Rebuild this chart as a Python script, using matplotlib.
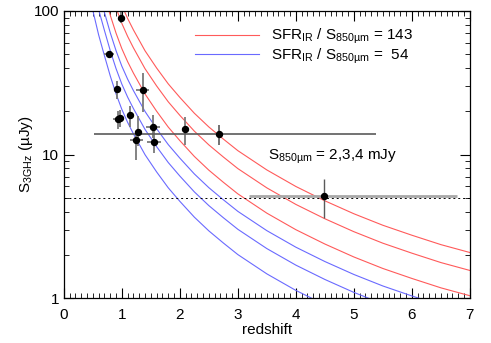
import numpy as np
import matplotlib
matplotlib.use("Agg")
import matplotlib.pyplot as plt

plt.rcParams['font.family'] = ['Liberation Sans', 'DejaVu Sans']
plt.rcParams['mathtext.default'] = 'regular'

# model curve shape: S_3GHz per (mJy at 850um x SFR ratio)
model_z = [0.45, 0.5, 0.6, 0.7, 0.8, 0.9, 1.0, 1.1, 1.2, 1.4, 1.6, 1.8, 2.0,
           2.25, 2.5, 2.75, 3.0, 3.5, 4.0, 4.5, 5.0, 5.5, 6.0, 6.5, 7.0]
model_g = [1.148, 0.933, 0.631, 0.452, 0.327, 0.245, 0.191, 0.155, 0.129,
           0.0923, 0.0700, 0.0543, 0.0437, 0.0339, 0.0272, 0.0224, 0.0186,
           0.01365, 0.01047, 0.00832, 0.00676, 0.00562, 0.00479, 0.00412, 0.00363]
s850_values = [2, 3, 4]
ratio_red = 143
ratio_blue = 54

# sources
z = [0.99, 0.78, 0.91, 1.36, 1.14, 0.97, 0.94, 1.54, 2.09, 1.27, 1.24, 1.56]
s3 = [90, 50, 28.5, 28, 18.7, 18.1, 17.6, 15.5, 15.0, 14.3, 12.7, 12.3]
z_lo = [0.94, 0.69, 0.88, 1.24, 1.09, 0.93, 0.84, 1.41, 2.09, 1.22, 1.14, 1.44]
z_hi = [1.05, 0.86, 0.94, 1.47, 1.19, 1.01, 1.02, 1.66, 2.09, 1.32, 1.36, 1.68]
s_lo = [82, 48, 24.3, 19.7, 15.5, 15.5, 15.0, 13.0, 11.6, 11.5, 9.2, 10.3]
s_hi = [110, 52, 32.6, 36.8, 21.8, 20.4, 20.0, 19.0, 18.4, 18.6, 14.3, 14.5]

# stacked / wide-range sources
wide_z = [2.67, 4.49]
wide_s = [13.8, 5.17]
wide_zlo = [0.52, 3.19]
wide_zhi = [5.39, 6.78]
wide_slo = [11.7, 3.6]
wide_shi = [16.0, 6.7]

fig = plt.figure(figsize=(4.91, 3.43), dpi=100)
ax = fig.add_axes([0.130, 0.131, 0.827, 0.837])

g = np.array(model_g)
for s in s850_values:
    ax.plot(model_z, g * s * ratio_red, color='#ff5a5a', lw=0.8)
    ax.plot(model_z, g * s * ratio_blue, color='#6a6aff', lw=0.8)

ax.axhline(5, color='k', lw=0.7, ls=(0, (2, 3)))

z = np.array(z); s3 = np.array(s3)
xerr = [z - np.array(z_lo), np.array(z_hi) - z]
yerr = [s3 - np.array(s_lo), np.array(s_hi) - s3]
ax.errorbar(z, s3, xerr=xerr, yerr=yerr, fmt='o', color='k', ms=4.3,
            ecolor='#7a7a7a', elinewidth=1.3, capsize=0)

# wide source at z~2.7
ax.errorbar(wide_z[0], wide_s[0],
            xerr=[[wide_z[0] - wide_zlo[0]], [wide_zhi[0] - wide_z[0]]],
            yerr=[[wide_s[0] - wide_slo[0]], [wide_shi[0] - wide_s[0]]],
            fmt='o', color='k', ms=4.3, ecolor='#5a5a5a', elinewidth=1.2, capsize=0)
# wide source at z~4.5
ax.errorbar(wide_z[1], wide_s[1],
            xerr=[[wide_z[1] - wide_zlo[1]], [wide_zhi[1] - wide_z[1]]],
            fmt='none', ecolor='#a8a8a8', elinewidth=2, capsize=0)
ax.errorbar(wide_z[1], wide_s[1],
            yerr=[[wide_s[1] - wide_slo[1]], [wide_shi[1] - wide_s[1]]],
            fmt='o', color='k', ms=4.3, ecolor='#5a5a5a', elinewidth=1.0, capsize=0)

ax.set_yscale('log')
ax.set_xlim(0, 7)
ax.set_ylim(1, 100)
ax.set_xticks(range(8))
ax.set_xticks(np.arange(0, 7.01, 0.1), minor=True)
ax.set_yticks([1, 10, 100])
ax.set_yticklabels(['1', '10', '100'])
ax.tick_params(which='both', direction='in', top=True, right=True, labelsize=11)
ax.tick_params(which='major', length=7, width=0.8)
ax.tick_params(which='minor', length=3.5, width=0.6)
ax.tick_params(axis='x', pad=7)
for sp in ax.spines.values():
    sp.set_linewidth(0.9)

ax.set_xlabel('redshift', fontsize=11, labelpad=1)
ax.set_ylabel('S$_{3GHz}$ (µJy)', fontsize=11, labelpad=-1)

ax.text(3.52, 9.7, 'S$_{850µm}$ = 2,3,4 mJy', fontsize=11, va='center')

ax.legend([plt.Line2D([], [], color='#ff5a5a', lw=0.8),
           plt.Line2D([], [], color='#6a6aff', lw=0.8)],
          ['SFR$_{IR}$ / S$_{850µm}$ = 143', 'SFR$_{IR}$ / S$_{850µm}$ =  54'],
          loc='upper right', bbox_to_anchor=(0.875, 0.965), frameon=False,
          fontsize=11, handlelength=4.2, handletextpad=0.8,
          labelspacing=0.0, borderaxespad=0)

fig.savefig('out.png', dpi=100)
